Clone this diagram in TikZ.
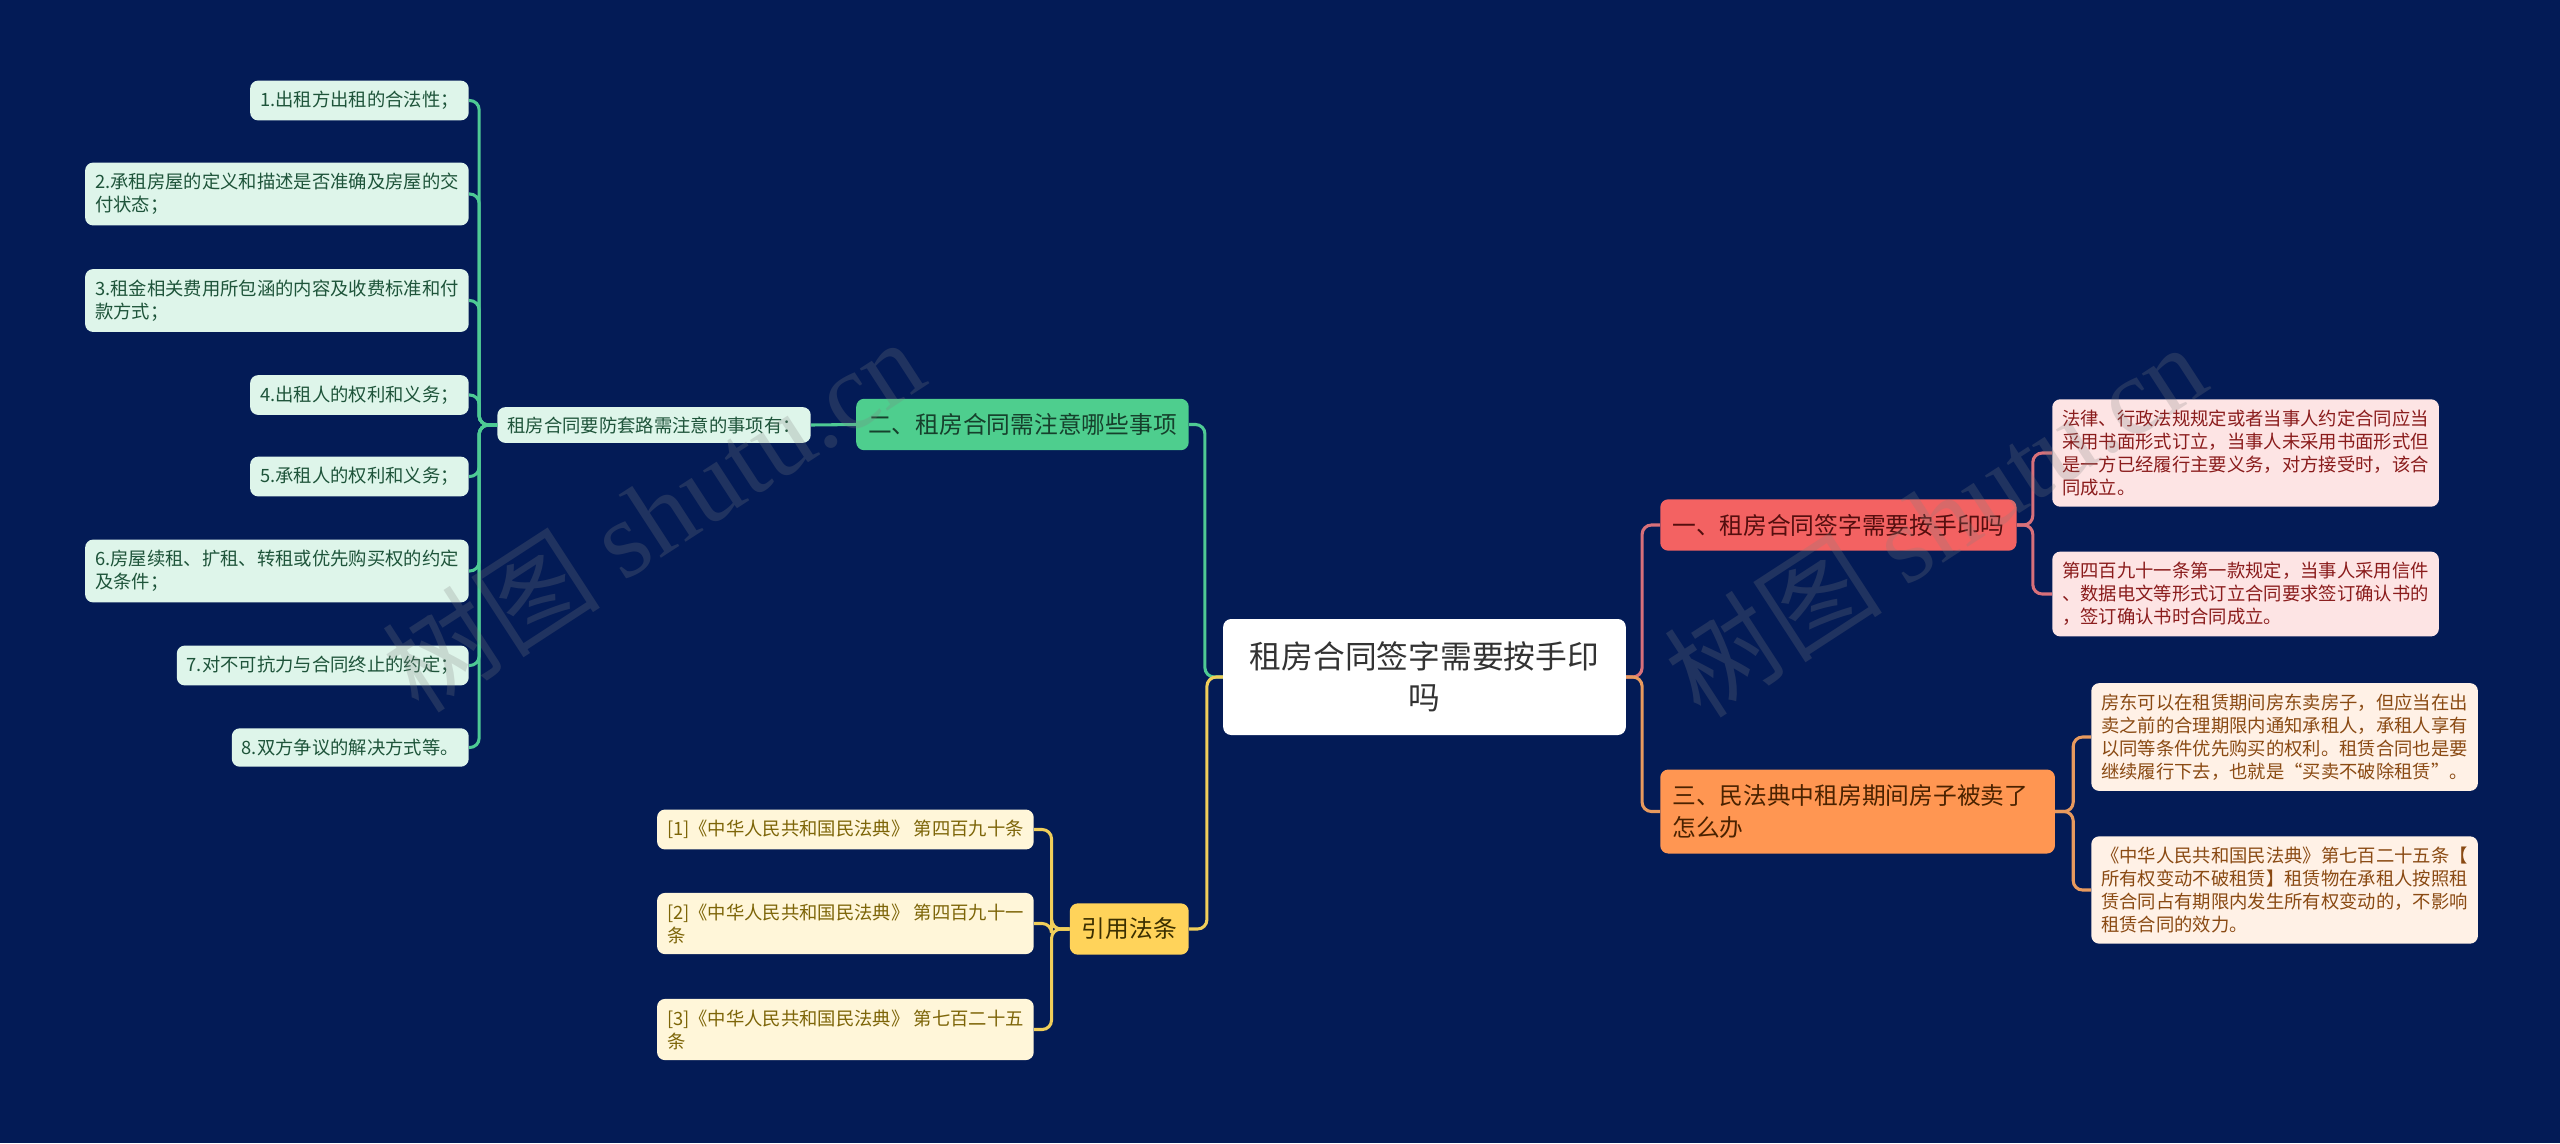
\documentclass[tikz,border=0pt]{standalone}
\usepackage{fontspec}
\setmainfont{Noto Sans CJK SC}
\newfontfamily\wmserif{Liberation Serif}

\definecolor{bgnavy}{RGB}{3,27,86}
\definecolor{rootText}{RGB}{51,51,51}
\definecolor{gTopic}{RGB}{78,206,142}
\definecolor{gTopicText}{RGB}{22,64,44}
\definecolor{gLeaf}{RGB}{222,245,234}
\definecolor{gLeafText}{RGB}{30,84,58}
\definecolor{gLine}{RGB}{78,202,148}
\definecolor{rTopic}{RGB}{243,98,98}
\definecolor{rTopicText}{RGB}{84,14,14}
\definecolor{rLeaf}{RGB}{253,228,228}
\definecolor{rLeafText}{RGB}{138,28,28}
\definecolor{rLine}{RGB}{216,112,122}
\definecolor{oTopic}{RGB}{255,150,82}
\definecolor{oTopicText}{RGB}{74,34,0}
\definecolor{oLeaf}{RGB}{255,241,230}
\definecolor{oLeafText}{RGB}{138,74,19}
\definecolor{oLine}{RGB}{232,154,94}
\definecolor{yTopic}{RGB}{255,211,90}
\definecolor{yTopicText}{RGB}{59,47,0}
\definecolor{yLeaf}{RGB}{255,246,217}
\definecolor{yLeafText}{RGB}{125,101,8}
\definecolor{yLine}{RGB}{240,206,90}

\newcommand{\leaffont}{\fontsize{13.75}{17.25}\selectfont}
\newcommand{\topicfont}{\fontsize{17.8}{24.5}\selectfont}
\newcommand{\rootfont}{\fontsize{23.8}{30.75}\selectfont}

\begin{document}
\begin{tikzpicture}[x=0.75pt,y=0.75pt,yscale=-1,xscale=1,
  leaf/.style={rounded corners=6pt, inner xsep=7.5pt, inner ysep=8pt, align=left, font=\leaffont},
  gleaf/.style={leaf, fill=gLeaf, text=gLeafText, anchor=east},
  yleaf/.style={leaf, fill=yLeaf, text=yLeafText, anchor=east},
  rleaf/.style={leaf, fill=rLeaf, text=rLeafText, anchor=west},
  oleaf/.style={leaf, fill=oLeaf, text=oLeafText, anchor=west},
  topic/.style={rounded corners=6pt, inner xsep=9pt, inner ysep=11pt, align=left, font=\topicfont},
  rootbox/.style={rounded corners=6pt, fill=white, text=rootText, minimum width=302pt, minimum height=87pt, align=center, font=\rootfont},
  link/.style={line width=2.3pt, rounded corners=7pt},
  wmark/.style={text=gray, opacity=0.24, rotate=33, font=\fontsize{82}{82}\selectfont}]
\useasboundingbox (0,0) rectangle (2560,1143);
\fill [bgnavy] (0,0) rectangle (2560,1143);

% Root
\node [rootbox] (root) at (1424.5,677) {租房合同签字需要按手印\\吗};

% Topics
\node [topic, fill=rTopic, text=rTopicText, anchor=west] (t1) at (1660,525) {一、租房合同签字需要按手印吗};
\node [topic, fill=gTopic, text=gTopicText, anchor=east] (t2) at (1189,424.5) {二、租房合同需注意哪些事项};
\node [topic, fill=oTopic, text=oTopicText, anchor=west, text width=278pt] (t3) at (1660,811.5) {三、民法典中租房期间房子被卖了\\怎么办};
\node [topic, fill=yTopic, text=yTopicText, anchor=east] (t4) at (1189,929) {引用法条};

% Green side
\node [gleaf, inner ysep=7pt] (mid) at (811,425) {租房合同要防套路需注意的事项有：};
\node [gleaf] (g1) at (469,100.5) {1.出租方出租的合法性；};
\node [gleaf] (g2) at (469,194) {2.承租房屋的定义和描述是否准确及房屋的交\\付状态；};
\node [gleaf] (g3) at (469,300.5) {3.租金相关费用所包涵的内容及收费标准和付\\款方式；};
\node [gleaf] (g4) at (469,395) {4.出租人的权利和义务；};
\node [gleaf] (g5) at (469,476.5) {5.承租人的权利和义务；};
\node [gleaf] (g6) at (469,571) {6.房屋续租、扩租、转租或优先购买权的约定\\及条件；};
\node [gleaf] (g7) at (469,665.5) {7.对不可抗力与合同终止的约定；};
\node [gleaf] (g8) at (469,747.5) {8.双方争议的解决方式等。};

% Yellow side
\node [yleaf] (y1) at (1034,829.5) {[1]《中华人民共和国民法典》 第四百九十条};
\node [yleaf] (y2) at (1034,923.5) {[2]《中华人民共和国民法典》 第四百九十一\\条};
\node [yleaf] (y3) at (1034,1029.5) {[3]《中华人民共和国民法典》 第七百二十五\\条};

% Red side
\node [rleaf] (r1) at (2052,453) {法律、行政法规规定或者当事人约定合同应当\\采用书面形式订立，当事人未采用书面形式但\\是一方已经履行主要义务，对方接受时，该合\\同成立。};
\node [rleaf] (r2) at (2052,594) {第四百九十一条第一款规定，当事人采用信件\\、数据电文等形式订立合同要求签订确认书的\\，签订确认书时合同成立。};

% Orange side
\node [oleaf] (o1) at (2091,737) {房东可以在租赁期间房东卖房子，但应当在出\\卖之前的合理期限内通知承租人，承租人享有\\以同等条件优先购买的权利。租赁合同也是要\\继续履行下去，也就是“买卖不破除租赁”。};
\node [oleaf] (o2) at (2091,890) {《中华人民共和国民法典》第七百二十五条【\\所有权变动不破租赁】租赁物在承租人按照租\\赁合同占有期限内发生所有权变动的，不影响\\租赁合同的效力。};

% Links
\draw [link, gLine] (root.west) -- ++(-18,0) |- (t2.east);
\draw [link, yLine] (root.west) -- ++(-16,0) |- (t4.east);
\draw [link, rLine] (root.east) -- ++(16,0) |- (t1.west);
\draw [link, oLine] (root.east) -- ++(16,0) |- (t3.west);
\draw [link, gLine] (t2.west) -- (mid.east);
\foreach \n in {g1,g2,g3,g4,g5,g6,g7,g8}
  \draw [link, gLine] (mid.west) -- ++(-18,0) |- (\n.east);
\foreach \n in {y1,y2,y3}
  \draw [link, yLine] (t4.west) -- ++(-18,0) |- (\n.east);
\foreach \n in {r1,r2}
  \draw [link, rLine] (t1.east) -- ++(16,0) |- (\n.west);
\foreach \n in {o1,o2}
  \draw [link, oLine] (t3.east) -- ++(18,0) |- (\n.west);

% Watermarks
\node [wmark] (wm1) at (653,514) {树图 {\wmserif shutu.cn}};
\node [wmark] (wm2) at (1935,519) {树图 {\wmserif shutu.cn}};
\end{tikzpicture}
\end{document}
